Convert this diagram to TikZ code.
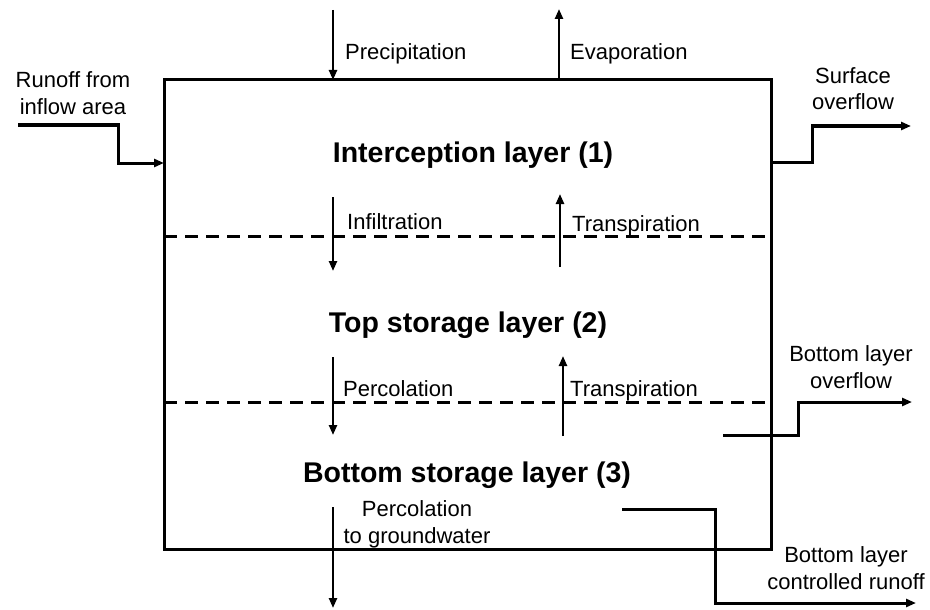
\documentclass[tikz,border=0pt]{standalone}
\usepackage{fontspec}
\setmainfont{Liberation Sans}
\usetikzlibrary{arrows.meta}
\begin{document}
\begin{tikzpicture}[x=1pt,y=-1pt,
  lbl/.style={font=\fontsize{22}{26.5}\selectfont, inner sep=0pt, align=center},
  layer/.style={font=\bfseries\fontsize{28.5}{32}\selectfont, inner sep=0pt, anchor=base},
  wall/.style={line width=3pt},
  flow/.style={line width=2.3pt, -{Triangle[length=10pt,width=8pt]}},
  pipe/.style={line width=3pt, -{Triangle[length=10pt,width=8pt]}},
  sep/.style={line width=3pt, dash pattern=on 13pt off 8pt}]
\useasboundingbox (0,0) rectangle (930,610);

% storage box
\coordinate (nw) at (164,80);
\coordinate (se) at (771,549);
\draw[wall] (nw) rectangle (se);

% layer boundaries
\coordinate (d1a) at (164,236); \coordinate (d1b) at (771,236);
\coordinate (d2a) at (164,402); \coordinate (d2b) at (771,402);
\draw[sep] (d1a) -- (d1b);
\draw[sep] (d2a) -- (d2b);

% layer titles
\node[layer] (l1) at (473,162) {Interception layer (1)};
\node[layer] (l2) at (468,332) {Top storage layer (2)};
\node[layer] (l3) at (467,482) {Bottom storage layer (3)};

% vertical fluxes
\coordinate (pA) at (333,10);  \coordinate (pB) at (333,80);
\coordinate (eA) at (559,80);  \coordinate (eB) at (559,9);
\coordinate (iA) at (333,197); \coordinate (iB) at (333,271);
\coordinate (tA) at (560,267); \coordinate (tB) at (560,194);
\coordinate (cA) at (333,357); \coordinate (cB) at (333,435);
\coordinate (uA) at (563,436); \coordinate (uB) at (563,356);
\coordinate (gA) at (333,507); \coordinate (gB) at (333,608);
\draw[flow] (pA) -- (pB);
\draw[flow] (eA) -- (eB);
\draw[flow] (iA) -- (iB);
\draw[flow] (tA) -- (tB);
\draw[flow] (cA) -- (cB);
\draw[flow] (uA) -- (uB);
\draw[flow] (gA) -- (gB);

% flux labels (multi-line labels are placed by their last baseline)
\node[lbl, anchor=base west] (precip) at (345,60) {Precipitation};
\node[lbl, anchor=base west] (evap) at (570,60) {Evaporation};
\node[lbl, anchor=base west] (infil) at (347,229) {Infiltration};
\node[lbl, anchor=base west] (trans1) at (572,231) {Transpiration};
\node[lbl, anchor=base west] (perc) at (343,396) {Percolation};
\node[lbl, anchor=base west] (trans2) at (570,396) {Transpiration};
\node[lbl, anchor=base] (gw) at (417,543) {Percolation\\to groundwater};

% lateral flows
\coordinate (r0) at (18,125);  \coordinate (r1) at (118,163); \coordinate (r2) at (164,163);
\draw[pipe] (r0) -| (r1) -- (r2);
\node[lbl, anchor=base] (runoff) at (73,114) {Runoff from\\inflow area};

\coordinate (s0) at (771,162); \coordinate (s1) at (812,126); \coordinate (s2) at (911,126);
\draw[pipe] (s0) -| (s1) -- (s2);
\node[lbl, anchor=base] (surf) at (853,110) {Surface\\overflow};

\coordinate (b0) at (723,435); \coordinate (b1) at (798,402); \coordinate (b2) at (912,402);
\draw[pipe] (b0) -| (b1) -- (b2);
\node[lbl, anchor=base] (bover) at (851,388) {Bottom layer\\overflow};

\coordinate (k0) at (622,509); \coordinate (k1) at (715,603); \coordinate (k2) at (916,603);
\draw[pipe] (k0) -| (k1) -- (k2);
\node[lbl, anchor=base] (bctrl) at (846,589) {Bottom layer\\controlled runoff};
\end{tikzpicture}
\end{document}
